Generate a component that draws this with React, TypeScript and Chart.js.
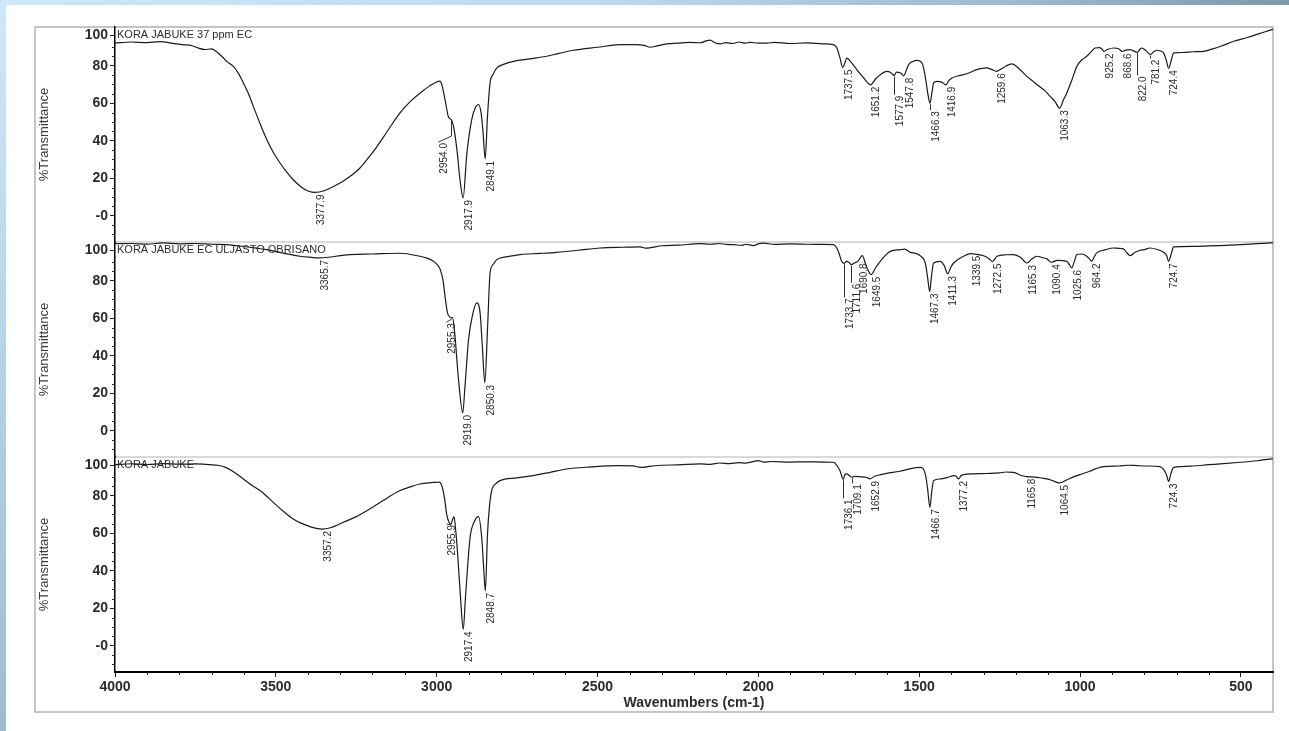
import { useEffect, useRef } from 'react';
import { Chart, registerables } from 'chart.js';

Chart.register(...registerables);

// ---------- axis / text data ----------
const X_MIN = 400;
const X_MAX = 4000;
const X_TICKS = [4000, 3500, 3000, 2500, 2000, 1500, 1000, 500];
const Y_MIN = -14;
const Y_MAX = 100.6;
// the original software prints its "100" label slightly inside the panel
const Y_TICKS = [0, 20, 40, 60, 80, 96.3];
const Y_TOP_LABEL = '100';
const ZERO_LABELS = ['-0', '0', '-0'];
const PANEL_TITLES = ['KORA JABUKE 37 ppm EC', 'KORA JABUKE EC ULJASTO OBRISANO', 'KORA JABUKE'];
const Y_TITLE = '%Transmittance';
const X_TITLE = 'Wavenumbers (cm-1)';

// ---------- spectrum A : KORA JABUKE 37 ppm EC ----------
const WN_A = [4000, 3950, 3900, 3860, 3820, 3790, 3760, 3740, 3720, 3700, 3684, 3665, 3653, 3632, 3615, 3601, 3585, 3570, 3550, 3528, 3508, 3487, 3466, 3446, 3420, 3400, 3377.9, 3350, 3321, 3295, 3269, 3240, 3217, 3190, 3166, 3140, 3114, 3080, 3052, 3020, 3000, 2990, 2984, 2974, 2964, 2958, 2954.0, 2948, 2937, 2928, 2917.9, 2906, 2891, 2880, 2870, 2862, 2856, 2849.1, 2842, 2834, 2824, 2813, 2790, 2761, 2710, 2658, 2620, 2575, 2500, 2430, 2380, 2355, 2336, 2315, 2285, 2250, 2215, 2180, 2160, 2150, 2135, 2119, 2100, 2080, 2060, 2040, 2026, 2000, 1974, 1950, 1900, 1850, 1800, 1767, 1756, 1746, 1737.5, 1730, 1725, 1710, 1694, 1675, 1651.2, 1635, 1621, 1601, 1590, 1580, 1577.9, 1570, 1564, 1555, 1547.8, 1540, 1533, 1520, 1507, 1491, 1483, 1478, 1472, 1466.3, 1460, 1455, 1445, 1430, 1416.9, 1408, 1398, 1380, 1362, 1340, 1321, 1300, 1290, 1275, 1259.6, 1245, 1230, 1212, 1190, 1165, 1145, 1124, 1110, 1093, 1078, 1063.3, 1052, 1041, 1025, 1010, 995, 979, 965, 953, 940, 932, 925.2, 915, 896, 880, 868.6, 858, 844, 835, 822.0, 815, 808, 795, 781.2, 770, 761, 750, 740, 732, 724.4, 716, 709, 680, 650, 616, 590, 560, 522, 480, 440, 404, 400];
const T_A = [92.0, 92.6, 92.3, 92.8, 91.9, 91.2, 90.6, 89.3, 88.6, 88.9, 87.4, 84.5, 82.3, 79.6, 75.5, 70.8, 65.0, 58.3, 49.5, 40.5, 33.8, 28.1, 23.2, 19.2, 15.2, 13.2, 12.4, 13.3, 15.6, 18.0, 21.0, 25.2, 29.9, 35.8, 41.8, 48.5, 54.8, 61.2, 65.3, 69.4, 71.3, 71.8, 69.9, 61.9, 53.0, 51.6, 51.0, 48.0, 35.2, 20.0, 9.5, 33.4, 51.2, 57.5, 59.3, 55.0, 45.0, 30.3, 53.0, 70.8, 75.5, 78.8, 80.8, 82.3, 83.6, 85.0, 86.5, 88.2, 89.8, 91.2, 91.2, 90.8, 89.8, 90.5, 91.6, 92.0, 92.4, 92.2, 93.3, 93.6, 92.2, 91.6, 92.3, 91.8, 92.6, 92.0, 92.4, 92.0, 92.0, 92.4, 91.8, 92.1, 91.6, 91.2, 89.5, 84.0, 79.0, 82.0, 84.0, 81.5, 77.9, 74.0, 69.8, 73.0, 75.2, 76.9, 76.5, 75.0, 74.7, 76.6, 76.4, 75.8, 74.6, 77.5, 80.5, 82.2, 82.8, 81.4, 76.0, 70.8, 64.0, 60.0, 66.0, 70.8, 71.6, 71.2, 69.8, 72.0, 73.4, 74.5, 75.2, 76.5, 77.9, 78.6, 78.8, 78.0, 77.0, 78.2, 79.8, 80.9, 78.5, 74.3, 71.5, 68.6, 66.8, 63.6, 61.0, 57.3, 61.5, 65.4, 72.5, 79.6, 83.0, 85.0, 87.5, 89.4, 89.6, 88.9, 87.6, 88.6, 89.4, 89.0, 87.6, 88.3, 88.5, 88.0, 87.1, 88.5, 89.4, 88.0, 85.9, 87.5, 88.2, 87.8, 86.8, 83.0, 78.6, 83.0, 86.8, 87.0, 87.4, 87.6, 88.8, 90.5, 93.0, 95.0, 97.2, 99.2, 99.4];
const PEAK_WN_A = [3377.9, 2954.0, 2917.9, 2849.1, 1737.5, 1651.2, 1577.9, 1547.8, 1466.3, 1416.9, 1259.6, 1063.3, 925.2, 868.6, 822.0, 781.2, 724.4];
const PEAK_T_A = [12.4, 51.0, 9.5, 30.3, 79.0, 69.8, 74.7, 74.6, 60.0, 69.8, 77.0, 57.3, 87.6, 87.6, 87.1, 85.9, 78.6];

// ---------- spectrum B : KORA JABUKE EC ULJASTO OBRISANO ----------
const WN_B = [4000, 3950, 3900, 3850, 3800, 3750, 3700, 3653, 3600, 3560, 3528, 3480, 3425, 3390, 3365.7, 3330, 3300, 3269, 3200, 3114, 3052, 3030, 3010, 2998, 2989, 2980, 2974, 2966, 2960, 2955.3, 2951, 2945, 2932, 2919.0, 2912, 2901, 2888, 2875, 2865, 2858, 2850.3, 2842, 2834, 2825, 2813, 2780, 2741, 2680, 2627, 2560, 2492, 2420, 2368, 2350, 2335, 2300, 2250, 2181, 2150, 2120, 2100, 2078, 2050, 2040, 2015, 2000, 1985, 1950, 1900, 1850, 1800, 1767, 1756, 1748, 1741, 1733.7, 1725, 1717, 1711.6, 1700, 1690.8, 1677, 1665, 1649.5, 1635, 1621, 1605, 1590, 1559, 1545, 1528, 1510, 1497, 1481, 1474, 1467.3, 1462, 1455, 1435, 1422, 1411.3, 1402, 1393, 1362, 1339.5, 1320, 1300, 1285, 1272.5, 1258, 1230, 1207, 1185, 1165.3, 1150, 1134, 1115, 1103, 1090.4, 1070, 1041, 1033, 1025.6, 1018, 1010, 995, 979, 970, 964.2, 955, 948, 920, 896, 880, 865, 855, 844, 830, 813, 800, 782, 760, 740, 731, 724.7, 716, 709, 650, 600, 564, 500, 450, 404, 400];
const T_B = [99.7, 99.8, 99.5, 100.1, 99.6, 99.8, 99.4, 99.2, 98.2, 97.3, 96.5, 94.8, 93.0, 92.4, 92.1, 92.6, 93.3, 93.9, 94.2, 94.6, 93.0, 92.0, 90.3, 88.5, 85.9, 80.0, 71.6, 62.5, 60.8, 60.0, 60.5, 54.0, 27.2, 9.5, 23.6, 48.5, 62.0, 68.1, 62.8, 45.0, 25.5, 53.9, 84.1, 88.5, 91.2, 92.8, 93.9, 94.5, 95.1, 96.2, 97.4, 97.8, 98.0, 97.3, 97.6, 98.6, 98.9, 99.7, 99.4, 99.8, 99.3, 99.2, 98.8, 99.4, 98.7, 99.6, 100.0, 99.3, 99.6, 99.4, 99.3, 99.2, 97.4, 94.0, 90.3, 89.2, 90.3, 89.5, 88.5, 89.5, 90.3, 93.3, 88.0, 83.2, 87.0, 90.3, 93.5, 95.6, 96.5, 96.8, 95.1, 94.5, 93.3, 89.4, 82.0, 74.2, 82.0, 89.4, 90.3, 88.0, 83.6, 87.0, 89.4, 93.0, 94.4, 94.0, 93.3, 92.0, 90.2, 93.0, 93.8, 93.9, 92.5, 89.4, 91.5, 93.0, 92.2, 91.6, 89.8, 90.8, 90.3, 88.5, 86.8, 90.0, 93.9, 94.2, 93.0, 91.5, 90.3, 93.0, 94.8, 96.5, 97.4, 97.2, 96.9, 95.0, 93.3, 95.0, 96.2, 96.5, 97.4, 96.6, 95.1, 93.5, 90.3, 94.5, 98.0, 98.3, 98.5, 98.7, 99.2, 99.7, 100.1, 100.2];
const PEAK_WN_B = [3365.7, 2955.3, 2919.0, 2850.3, 1733.7, 1711.6, 1690.8, 1649.5, 1467.3, 1411.3, 1339.5, 1272.5, 1165.3, 1090.4, 1025.6, 964.2, 724.7];
const PEAK_T_B = [92.1, 60.0, 9.5, 25.5, 89.2, 88.5, 90.3, 83.2, 74.2, 83.6, 94.4, 90.2, 89.4, 89.8, 86.8, 90.3, 90.3];

// ---------- spectrum C : KORA JABUKE ----------
const WN_C = [4000, 3950, 3900, 3850, 3800, 3750, 3705, 3680, 3653, 3625, 3601, 3575, 3549, 3522, 3497, 3472, 3446, 3420, 3394, 3370, 3357.2, 3330, 3310, 3290, 3250, 3217, 3170, 3114, 3080, 3052, 3020, 3000, 2992, 2984, 2975, 2969, 2962, 2955.9, 2950, 2946, 2940, 2934, 2926, 2917.4, 2910, 2896, 2882, 2870, 2860, 2854, 2848.7, 2842, 2836, 2829, 2815, 2803, 2750, 2700, 2650, 2596, 2520, 2440, 2390, 2370, 2357, 2340, 2300, 2250, 2181, 2150, 2120, 2090, 2060, 2040, 2020, 2000, 1985, 1960, 1900, 1850, 1800, 1767, 1761, 1746, 1736.1, 1730, 1725, 1718, 1709.1, 1700, 1684, 1665, 1652.9, 1640, 1620, 1601, 1560, 1530, 1497, 1481, 1474, 1466.7, 1461, 1455, 1435, 1410, 1393, 1385, 1377.2, 1370, 1362, 1330, 1290, 1250, 1230, 1207, 1180, 1165.8, 1140, 1120, 1103, 1085, 1064.5, 1040, 1020, 1000, 970, 950, 927, 880, 850, 823, 790, 751, 738, 731, 724.3, 717, 709, 650, 600, 564, 500, 450, 404, 400];
const T_C = [96.5, 97.0, 96.6, 97.1, 96.8, 96.9, 96.5, 96.2, 94.8, 92.0, 88.9, 85.6, 82.7, 78.7, 74.7, 71.0, 67.6, 65.2, 63.5, 62.4, 62.2, 62.9, 64.2, 65.8, 68.8, 72.0, 77.0, 82.7, 84.8, 86.2, 86.9, 87.1, 87.2, 85.3, 78.0, 70.2, 66.0, 64.9, 67.5, 68.8, 60.0, 47.0, 26.0, 8.7, 27.0, 57.8, 66.5, 68.8, 57.8, 42.0, 29.2, 59.6, 74.0, 82.7, 86.5, 88.0, 89.5, 90.7, 92.3, 94.2, 95.3, 96.0, 95.9, 95.2, 95.1, 95.6, 96.2, 96.4, 96.9, 96.7, 97.4, 97.1, 97.6, 97.3, 98.0, 98.7, 97.9, 98.2, 97.9, 98.0, 97.9, 97.8, 97.2, 93.3, 88.7, 91.5, 91.6, 90.8, 89.8, 90.3, 90.1, 89.8, 88.9, 90.2, 91.2, 91.9, 93.0, 94.3, 95.1, 91.6, 84.0, 73.8, 82.0, 88.0, 88.9, 89.8, 90.7, 90.3, 88.9, 90.6, 91.2, 91.6, 91.8, 92.1, 92.6, 92.4, 90.6, 90.1, 89.9, 89.4, 88.9, 88.0, 86.8, 88.5, 90.0, 91.2, 93.0, 94.4, 95.5, 95.8, 96.2, 96.0, 95.8, 95.5, 93.5, 91.0, 87.6, 92.0, 95.1, 95.8, 96.5, 96.9, 97.8, 98.6, 99.6, 99.7];
const PEAK_WN_C = [3357.2, 2955.9, 2917.4, 2848.7, 1736.1, 1709.1, 1652.9, 1466.7, 1377.2, 1165.8, 1064.5, 724.3];
const PEAK_T_C = [62.2, 64.9, 8.7, 29.2, 88.7, 89.8, 88.9, 73.8, 88.9, 90.1, 86.8, 87.6];

// ---------- presentation ----------
const Y_IDS = ['yA', 'yB', 'yC'];
const SPECTRA = [
  { wn: WN_A, t: T_A, pwn: PEAK_WN_A, pt: PEAK_T_A },
  { wn: WN_B, t: T_B, pwn: PEAK_WN_B, pt: PEAK_T_B },
  { wn: WN_C, t: T_C, pwn: PEAK_WN_C, pt: PEAK_T_C },
];
// leader lines used by the original's label placement (pixels): drop below the peak, sideways shift
const LEADERS: Record<string, { drop: number; shift: number }> = {
  '0:2954.0': { drop: 22, shift: -13 },
  '0:1577.9': { drop: 19, shift: 0 },
  '0:1466.3': { drop: 7, shift: 0 },
  '0:822.0': { drop: 23, shift: 0 },
  '0:781.2': { drop: 4, shift: 0 },
  '1:2955.3': { drop: 4, shift: -5 },
  '1:1733.7': { drop: 34, shift: 0 },
  '1:1711.6': { drop: 18, shift: 0 },
  '2:2955.9': { drop: 0, shift: -5 },
  '2:1736.1': { drop: 19, shift: 0 },
  '2:1709.1': { drop: 6, shift: 0 },
};

const FONT = 'Liberation Sans, Arial, sans-serif';
const TEXT = '#2b2b2b';
const FRAME = '#b3b3b3';

const framePlugin = {
  id: 'irFrame',
  beforeDraw(chart: any) {
    const { ctx, chartArea: ca } = chart;
    const outerLeft = 35;
    const outerBottom = chart.height - 19;
    ctx.save();
    ctx.strokeStyle = FRAME;
    ctx.lineWidth = 1.5;
    ctx.strokeRect(outerLeft, ca.top, ca.right - outerLeft, outerBottom - ca.top);
    ctx.lineWidth = 1.2;
    for (let i = 1; i < Y_IDS.length; i++) {
      const s = chart.scales[Y_IDS[i]];
      ctx.beginPath();
      ctx.moveTo(ca.left, s.top);
      ctx.lineTo(ca.right, s.top);
      ctx.stroke();
    }
    ctx.restore();
  },
  afterDraw(chart: any) {
    const { ctx, chartArea: ca } = chart;
    const xs = chart.scales.x;
    ctx.save();
    // minor ticks
    ctx.strokeStyle = '#222';
    ctx.lineWidth = 1;
    ctx.beginPath();
    for (let w = 3900; w > X_MIN; w -= 100) {
      if (w % 500 === 0) continue;
      const px = Math.round(xs.getPixelForValue(w)) + 0.5;
      ctx.moveTo(px, xs.top);
      ctx.lineTo(px, xs.top + 3);
    }
    Y_IDS.forEach((id) => {
      const ys = chart.scales[id];
      for (let v = -10; v <= 90; v += 5) {
        if (v % 20 === 0) continue;
        const py = Math.round(ys.getPixelForValue(v)) + 0.5;
        ctx.moveTo(ys.right, py);
        ctx.lineTo(ys.right - 3, py);
      }
    });
    ctx.stroke();

    // panel titles
    ctx.fillStyle = TEXT;
    ctx.font = `11px ${FONT}`;
    ctx.textBaseline = 'middle';
    ctx.textAlign = 'left';
    Y_IDS.forEach((id, i) => {
      const ys = chart.scales[id];
      ctx.fillText(PANEL_TITLES[i], ca.left + 2, ys.top + 8);
    });

    // peak labels
    ctx.font = `10px ${FONT}`;
    ctx.strokeStyle = '#333';
    ctx.lineWidth = 1;
    SPECTRA.forEach((sp, i) => {
      const ys = chart.scales[Y_IDS[i]];
      sp.pwn.forEach((w: number, k: number) => {
        const label = w.toFixed(1);
        const px = xs.getPixelForValue(w);
        const py = ys.getPixelForValue(sp.pt[k]);
        const lead = LEADERS[`${i}:${label}`] || { drop: 0, shift: 0 };
        let top = py + 2;
        let lx = px;
        if (lead.drop > 0 || lead.shift !== 0) {
          ctx.beginPath();
          ctx.moveTo(Math.round(px) + 0.5, py + 1);
          if (lead.shift !== 0) {
            ctx.lineTo(Math.round(px) + 0.5, py + Math.max(lead.drop - 6, 1));
            ctx.lineTo(Math.round(px + lead.shift) + 0.5, py + lead.drop);
          } else {
            ctx.lineTo(Math.round(px) + 0.5, py + lead.drop);
          }
          ctx.stroke();
          top = py + lead.drop + 1;
          lx = px + lead.shift;
        }
        ctx.save();
        ctx.translate(lx + 1, top);
        ctx.rotate(-Math.PI / 2);
        ctx.textAlign = 'right';
        ctx.textBaseline = 'top';
        ctx.fillText(label, 0, 0);
        ctx.restore();
      });
    });
    ctx.restore();
  },
};

function yScale(i: number) {
  return {
    type: 'linear',
    position: 'left',
    stack: 'ir',
    stackWeight: 1,
    weight: Y_IDS.length - i,
    min: Y_MIN,
    max: Y_MAX,
    afterBuildTicks: (s: any) => {
      s.ticks = Y_TICKS.map((v) => ({ value: v }));
    },
    afterFit: (s: any) => {
      s.width = 80;
    },
    ticks: {
      autoSkip: false,
      padding: 2,
      color: TEXT,
      font: { family: FONT, size: 14, weight: 'bold' },
      callback: (v: number) => (v === 0 ? ZERO_LABELS[i] : v === Y_TICKS[Y_TICKS.length - 1] ? Y_TOP_LABEL : String(v)),
    },
    grid: { drawOnChartArea: false, drawTicks: true, tickLength: 5, color: '#222', lineWidth: 1 },
    border: { display: true, color: '#000', width: 1.5 },
    title: {
      display: true,
      text: Y_TITLE,
      color: '#3a3a3a',
      font: { family: FONT, size: 13 },
      padding: { top: 2, bottom: 0 },
    },
  };
}

export default function App() {
  const ref = useRef<HTMLCanvasElement | null>(null);

  useEffect(() => {
    if (!ref.current) return;
    const chart = new Chart(ref.current, {
      type: 'line',
      data: {
        datasets: SPECTRA.map((sp, i) => ({
          data: sp.wn.map((w, k) => ({ x: w, y: sp.t[k] })),
          xAxisID: 'x',
          yAxisID: Y_IDS[i],
          borderColor: '#1a1a1a',
          borderWidth: 1.2,
          pointRadius: 0,
          fill: false,
          cubicInterpolationMode: 'monotone',
        })),
      },
      options: {
        responsive: false,
        animation: false,
        devicePixelRatio: 1,
        layout: { padding: { left: 35, top: 27, right: 16, bottom: 19 } },
        plugins: { legend: { display: false }, tooltip: { enabled: false } },
        scales: {
          x: {
            type: 'linear',
            reverse: true,
            min: X_MIN,
            max: X_MAX,
            afterBuildTicks: (s: any) => {
              s.ticks = X_TICKS.map((v) => ({ value: v }));
            },
            afterFit: (s: any) => {
              s.height = 40;
            },
            ticks: {
              autoSkip: false,
              maxRotation: 0,
              padding: 2,
              color: TEXT,
              font: { family: FONT, size: 14, weight: 'bold' },
              callback: (v: number) => String(v),
            },
            grid: { drawOnChartArea: false, drawTicks: true, tickLength: 5, color: '#222', lineWidth: 1 },
            border: { display: true, color: '#000', width: 2 },
            title: {
              display: true,
              text: X_TITLE,
              color: TEXT,
              font: { family: FONT, size: 14, weight: 'bold' },
              padding: { top: 0, bottom: 0 },
            },
          },
          yA: yScale(0),
          yB: yScale(1),
          yC: yScale(2),
        } as any,
      },
      plugins: [framePlugin],
    } as any);
    return () => chart.destroy();
  }, []);

  return (
    <div style={{ position: 'fixed', left: 0, top: 0, width: 1289, height: 731, background: '#fff', overflow: 'hidden' }}>
      <div style={{ position: 'absolute', left: 0, top: 0, width: 1289, height: 5, background: 'linear-gradient(to right, #cde8f8 0%, #bcdcef 45%, #9cb9cc 80%, #7f98aa 100%)' }} />
      <div style={{ position: 'absolute', left: 0, top: 0, width: 6, height: 731, background: 'linear-gradient(to bottom, #cde8f8 0%, #b5d3e8 50%, #9dbbd1 100%)' }} />
      <canvas ref={ref} width={1289} height={731} style={{ position: 'absolute', left: 0, top: 0, width: 1289, height: 731 }} />
    </div>
  );
}
